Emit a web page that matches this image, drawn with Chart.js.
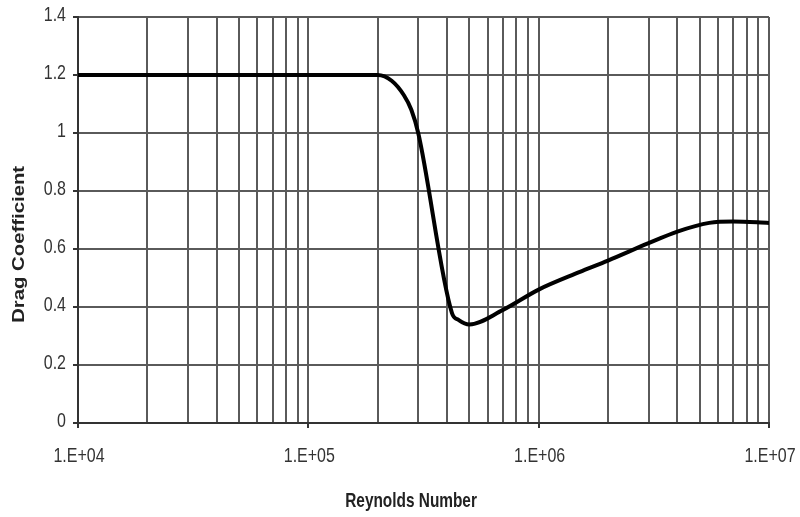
<!DOCTYPE html>
<html>
<head>
<meta charset="utf-8">
<script src="https://cdn.jsdelivr.net/npm/chart.js@4/dist/chart.umd.min.js"></script>
<style>
  html, body { margin: 0; padding: 0; background: #fff; }
  #wrap { width: 800px; height: 517px; }
</style>
</head>
<body>
<div id="wrap"><canvas id="c" width="800" height="517"></canvas></div>
<script>
// Drag coefficient of a cylinder versus Reynolds number
const reynolds = [1e4, 2e5, 2.3e5, 2.6e5, 2.8e5, 3.0e5, 4.2e5, 4.5e5, 5.0e5, 7e5, 1e6, 1.5e6, 2e6, 3e6, 4e6, 5.5e6, 7e6, 1e7];
const dragCoefficient = [1.2, 1.2, 1.18, 1.13, 1.08, 1.0, 0.38, 0.355, 0.34, 0.39, 0.46, 0.52, 0.56, 0.62, 0.66, 0.69, 0.695, 0.69];
const decadeTicks = [1e4, 1e5, 1e6, 1e7];
const yTicks = [0, 0.2, 0.4, 0.6, 0.8, 1, 1.2, 1.4];
const xTitle = 'Reynolds Number';
const yTitle = 'Drag Coefficient';

const points = reynolds.map((r, i) => ({ x: r, y: dragCoefficient[i] }));

// grid positions: 1..9 times each power of ten
const logGrid = [];
for (let d = 0; d < decadeTicks.length - 1; d++) {
  for (let m = 1; m < 10; m++) logGrid.push(decadeTicks[d] * m);
}
logGrid.push(decadeTicks[decadeTicks.length - 1]);

const isDecade = v => decadeTicks.some(t => Math.abs(t - v) / t < 1e-9);
const sci = v => {
  const e = Math.round(Math.log10(v));
  return '1.E+' + String(e).padStart(2, '0');
};

const gridColor = '#5a5a5a';
const textColor = '#333';
const labelFont = '"Liberation Sans", Arial, sans-serif';
const STRETCH = 1.3; // tall, narrow lettering

// tick labels and axis titles, drawn from the scales' own ticks
const axisText = {
  id: 'axisText',
  afterDraw(chart) {
    const { ctx, chartArea: a, scales } = chart;
    ctx.save();
    ctx.textBaseline = 'middle';

    // y tick labels
    ctx.fillStyle = textColor;
    ctx.font = '16px ' + labelFont;
    ctx.textAlign = 'right';
    scales.y.ticks.forEach(t => {
      if (!t.label) return;
      ctx.save();
      ctx.translate(a.left - 12, scales.y.getPixelForValue(t.value) - 2);
      ctx.scale(1, STRETCH);
      ctx.fillText(t.label, 0, 0);
      ctx.restore();
    });

    // x tick labels
    ctx.textAlign = 'center';
    scales.x.ticks.forEach(t => {
      if (!t.label) return;
      ctx.save();
      ctx.translate(scales.x.getPixelForValue(t.value) + 1, a.bottom + 33);
      ctx.scale(1, STRETCH);
      ctx.fillText(t.label, 0, 0);
      ctx.restore();
    });

    // axis titles
    ctx.fillStyle = '#222';
    ctx.save();
    ctx.translate(a.left + (a.right - a.left) * 0.482, a.bottom + 78);
    ctx.scale(1, STRETCH);
    ctx.font = 'bold 15.4px ' + labelFont;
    ctx.fillText(xTitle, 0, 0);
    ctx.restore();

    ctx.save();
    ctx.translate(20, a.top + (a.bottom - a.top) * 0.56);
    ctx.rotate(-Math.PI / 2);
    ctx.scale(1.27, 1);
    ctx.font = 'bold 16px ' + labelFont;
    ctx.fillText(yTitle, 0, 0);
    ctx.restore();

    ctx.restore();
  }
};

new Chart(document.getElementById('c'), {
  type: 'line',
  data: {
    datasets: [{
      data: points,
      borderColor: '#000',
      borderWidth: 4,
      pointRadius: 0,
      fill: false,
      cubicInterpolationMode: 'monotone'
    }]
  },
  options: {
    responsive: false,
    animation: false,
    layout: { padding: { top: 17, right: 31, left: 0, bottom: 0 } },
    plugins: { legend: { display: false }, tooltip: { enabled: false } },
    scales: {
      x: {
        type: 'logarithmic',
        min: 1e4,
        max: 1e7,
        afterBuildTicks: s => { s.ticks = logGrid.map(v => ({ value: v })); },
        afterFit: s => { s.height = 94; s.paddingLeft = 0; s.paddingRight = 0; },
        border: { color: '#333', width: 2 },
        grid: {
          color: gridColor,
          lineWidth: 2,
          tickLength: 5,
          tickColor: ctx => (ctx.tick && isDecade(ctx.tick.value)) ? '#333' : 'rgba(0,0,0,0)'
        },
        ticks: {
          display: false,
          autoSkip: false,
          maxRotation: 0,
          callback: v => isDecade(v) ? sci(v) : ''
        }
      },
      y: {
        min: 0,
        max: 1.4,
        afterBuildTicks: s => { s.ticks = yTicks.map(v => ({ value: v })); },
        afterFit: s => { s.width = 78; s.paddingTop = 0; s.paddingBottom = 0; },
        border: { color: '#333', width: 2 },
        grid: { color: gridColor, lineWidth: 2, tickLength: 5, tickColor: '#333' },
        ticks: {
          display: false,
          callback: v => String(Math.round(v * 10) / 10)
        }
      }
    }
  },
  plugins: [axisText]
});
</script>
</body>
</html>
